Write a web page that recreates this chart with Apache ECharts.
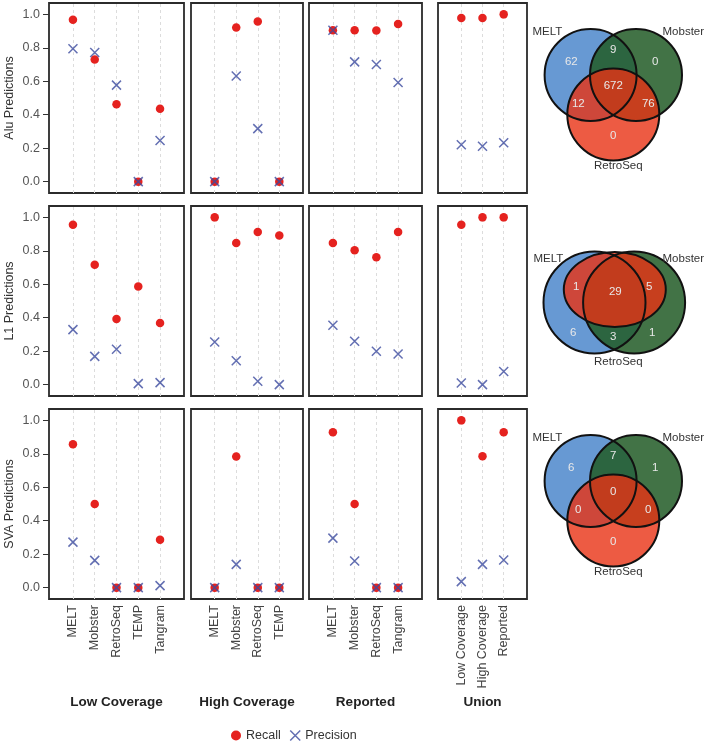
<!DOCTYPE html>
<html>
<head>
<meta charset="utf-8">
<script src="https://cdn.jsdelivr.net/npm/echarts@6/dist/echarts.min.js"></script>
<style>
  html, body { margin: 0; padding: 0; background: #fff; }
  #chart { width: 704px; height: 742px; }
</style>
</head>
<body>
<div id="chart"></div>
<script>
// categories
const methodsLow = ['MELT', 'Mobster', 'RetroSeq', 'TEMP', 'Tangram'];
const methodsHigh = ['MELT', 'Mobster', 'RetroSeq', 'TEMP'];
const methodsReported = ['MELT', 'Mobster', 'RetroSeq', 'Tangram'];
const unionSets = ['Low Coverage', 'High Coverage', 'Reported'];
const panelTitles = ['Low Coverage', 'High Coverage', 'Reported', 'Union'];
const rowNames = ['Alu Predictions', 'L1 Predictions', 'SVA Predictions'];
const yTicks = [0, 0.2, 0.4, 0.6, 0.8, 1.0];

// Alu
const aluRecallLow = [0.968, 0.73, 0.462, 0, 0.436];
const aluPrecisionLow = [0.795, 0.772, 0.577, 0, 0.246];
const aluRecallHigh = [0, 0.921, 0.958, 0];
const aluPrecisionHigh = [0, 0.631, 0.317, 0];
const aluRecallReported = [0.905, 0.905, 0.903, 0.942];
const aluPrecisionReported = [0.905, 0.716, 0.70, 0.593];
const aluRecallUnion = [0.978, 0.978, 1.0];
const aluPrecisionUnion = [0.22, 0.212, 0.232];

// L1
const l1RecallLow = [0.956, 0.717, 0.393, 0.586, 0.369];
const l1PrecisionLow = [0.329, 0.169, 0.211, 0.006, 0.012];
const l1RecallHigh = [1.0, 0.847, 0.913, 0.891];
const l1PrecisionHigh = [0.255, 0.143, 0.02, 0.0];
const l1RecallReported = [0.847, 0.803, 0.761, 0.913];
const l1PrecisionReported = [0.355, 0.259, 0.199, 0.183];
const l1RecallUnion = [0.956, 1.0, 1.0];
const l1PrecisionUnion = [0.01, 0.0, 0.078];

// SVA
const svaRecallLow = [0.857, 0.5, 0, 0, 0.286];
const svaPrecisionLow = [0.272, 0.163, 0, 0, 0.012];
const svaRecallHigh = [0, 0.784, 0, 0];
const svaPrecisionHigh = [0, 0.139, 0, 0];
const svaRecallReported = [0.929, 0.5, 0, 0];
const svaPrecisionReported = [0.296, 0.159, 0, 0];
const svaRecallUnion = [1.0, 0.786, 0.929];
const svaPrecisionUnion = [0.036, 0.139, 0.165];

// venn counts: [MELT only, MELT&Mobster, Mobster only, all three, MELT&RetroSeq, Mobster&RetroSeq, RetroSeq only]
const aluVenn = [62, 9, 0, 672, 12, 76, 0];
const l1Venn = [6, 3, 1, 29, 1, 5];
const svaVenn = [6, 7, 1, 0, 0, 0, 0];
const vennNames = ['MELT', 'Mobster', 'RetroSeq'];

const panelCats = [methodsLow, methodsHigh, methodsReported, unionSets];
const recallRows = [
  [aluRecallLow, aluRecallHigh, aluRecallReported, aluRecallUnion],
  [l1RecallLow, l1RecallHigh, l1RecallReported, l1RecallUnion],
  [svaRecallLow, svaRecallHigh, svaRecallReported, svaRecallUnion]
];
const precisionRows = [
  [aluPrecisionLow, aluPrecisionHigh, aluPrecisionReported, aluPrecisionUnion],
  [l1PrecisionLow, l1PrecisionHigh, l1PrecisionReported, l1PrecisionUnion],
  [svaPrecisionLow, svaPrecisionHigh, svaPrecisionReported, svaPrecisionUnion]
];

const RED = '#e5221f';
const BLUE = '#3c4b9f';
const FONT = 'Liberation Sans, Helvetica, Arial, sans-serif';
const crossPath = 'path://M0,0L10,10M10,0L0,10';

const colLefts = [49, 191, 309, 438];
const colWidths = [135, 112, 113, 89];
const rowTops = [3, 206, 409];
const rowHeight = 190;
const pad = 1.1;

const grids = [], xAxes = [], yAxes = [], series = [];

rowNames.forEach((rowName, r) => {
  panelCats.forEach((cats, c) => {
    const gi = grids.length;
    grids.push({
      left: colLefts[c], top: rowTops[r], width: colWidths[c], height: rowHeight,
      show: true, borderColor: '#2b2b2b', borderWidth: 1.8, backgroundColor: '#fff'
    });
    xAxes.push({
      gridIndex: gi, type: 'value', min: -pad, max: cats.length - 1 + pad,
      axisLine: { show: false, onZero: false }, axisTick: { show: false }, splitLine: { show: false },
      axisLabel: r === 2 ? {
        customValues: cats.map((_, i) => i),
        formatter: v => cats[Math.round(v)],
        rotate: 90, fontSize: 12.5, color: '#444', fontFamily: FONT, margin: 6
      } : { show: false },
      name: r === 2 ? panelTitles[c] : '',
      nameLocation: 'middle', nameGap: 96,
      nameTextStyle: { fontSize: 13.5, fontWeight: 'bold', color: '#222', fontFamily: FONT }
    });
    const yAxis = {
      gridIndex: gi, type: 'value', min: -0.068, max: 1.068,
      splitLine: { show: false }, axisLine: { show: false, onZero: false }
    };
    if (c === 0) {
      Object.assign(yAxis, {
        axisTick: { show: true, length: 6, lineStyle: { color: '#333', width: 1 }, customValues: yTicks },
        axisLabel: { customValues: yTicks, formatter: v => v.toFixed(1), fontSize: 12.5, color: '#555', fontFamily: FONT, margin: 9 },
        name: rowName, nameLocation: 'middle', nameGap: 33,
        nameTextStyle: { fontSize: 12.5, color: '#333', fontFamily: FONT }
      });
    } else {
      Object.assign(yAxis, { axisTick: { show: false }, axisLabel: { show: false } });
    }
    yAxes.push(yAxis);

    // dashed guides at each category
    series.push({
      name: 'guides', type: 'scatter', xAxisIndex: gi, yAxisIndex: gi, data: [], z: 1,
      markLine: {
        z: 1, silent: true, symbol: 'none', label: { show: false }, animation: false,
        lineStyle: { color: '#dcdcdc', type: [3, 3], width: 1 },
        data: cats.map((_, i) => ({ xAxis: i }))
      }
    });
    series.push({
      name: 'Recall', type: 'scatter', xAxisIndex: gi, yAxisIndex: gi, z: 10,
      symbol: 'circle', symbolSize: 8.5,
      itemStyle: { color: RED, opacity: 1 },
      data: recallRows[r][c].map((v, i) => [i, v])
    });
    series.push({
      name: 'Precision', type: 'scatter', xAxisIndex: gi, yAxisIndex: gi, z: 11,
      symbol: crossPath, symbolSize: 9,
      itemStyle: { color: 'none', borderColor: BLUE, borderWidth: 1.5 },
      data: precisionRows[r][c].map((v, i) => [i, v])
    });
  });
});

// venn diagrams
const vBlue = '#6799d3';
const vGreen = 'rgba(35,92,40,0.86)';
const vRed = 'rgba(232,50,20,0.8)';
const graphics = [];
function txt(x, y, s, fill, size) {
  graphics.push({ type: 'text', x: x, y: y, z: 10, silent: true,
    style: { text: String(s), fill: fill, fontSize: size, fontFamily: FONT, align: 'center', verticalAlign: 'middle' } });
}
function round3(midX, midY, counts) {
  const r = 46, dx = 22.7, dy = 39.5;
  const shapes = [
    { cx: midX - dx, cy: midY, fill: vBlue },
    { cx: midX + dx, cy: midY, fill: vGreen },
    { cx: midX, cy: midY + dy, fill: vRed }
  ];
  shapes.forEach(s => graphics.push({ type: 'circle', z: 5, silent: true, shape: { cx: s.cx, cy: s.cy, r: r }, style: { fill: s.fill } }));
  shapes.forEach(s => graphics.push({ type: 'circle', z: 6, silent: true, shape: { cx: s.cx, cy: s.cy, r: r }, style: { fill: 'none', stroke: '#111', lineWidth: 2 } }));
  const offs = [[-42, -13.5], [0, -25.5], [42, -13.5], [0, 11], [-35, 29], [35, 29], [0, 61]];
  counts.forEach((v, i) => txt(midX + offs[i][0], midY + offs[i][1], v, '#e8e8e8', 11.5));
  txt(midX - 66, midY - 43, vennNames[0], '#333', 11.5);
  txt(midX + 70, midY - 43, vennNames[1], '#333', 11.5);
  txt(midX + 5, midY + 91, vennNames[2], '#333', 11.5);
}
function nested(midX, midY, counts) {
  const r = 51, dx = 19.8;
  graphics.push({ type: 'circle', z: 5, silent: true, shape: { cx: midX - dx, cy: midY, r: r }, style: { fill: vBlue } });
  graphics.push({ type: 'circle', z: 5, silent: true, shape: { cx: midX + dx, cy: midY, r: r }, style: { fill: vGreen } });
  graphics.push({ type: 'ellipse', z: 5, silent: true, shape: { cx: midX + 0.5, cy: midY - 13, rx: 51, ry: 37.5 }, style: { fill: vRed } });
  graphics.push({ type: 'circle', z: 6, silent: true, shape: { cx: midX - dx, cy: midY, r: r }, style: { fill: 'none', stroke: '#111', lineWidth: 2 } });
  graphics.push({ type: 'circle', z: 6, silent: true, shape: { cx: midX + dx, cy: midY, r: r }, style: { fill: 'none', stroke: '#111', lineWidth: 2 } });
  graphics.push({ type: 'ellipse', z: 6, silent: true, shape: { cx: midX + 0.5, cy: midY - 13, rx: 51, ry: 37.5 }, style: { fill: 'none', stroke: '#111', lineWidth: 2 } });
  const offs = [[-41, 30], [-1, 34], [38, 30], [1, -11], [-38, -16], [35, -16]];
  counts.forEach((v, i) => txt(midX + offs[i][0], midY + offs[i][1], v, '#e8e8e8', 11.5));
  txt(midX - 66, midY - 44, vennNames[0], '#333', 11.5);
  txt(midX + 69, midY - 44, vennNames[1], '#333', 11.5);
  txt(midX + 4, midY + 59, vennNames[2], '#333', 11.5);
}
round3(613.3, 75, aluVenn);
nested(614.3, 302.5, l1Venn);
round3(613.3, 481, svaVenn);

const chart = echarts.init(document.getElementById('chart'));
chart.setOption({
  animation: false,
  backgroundColor: '#fff',
  textStyle: { fontFamily: FONT },
  grid: grids,
  xAxis: xAxes,
  yAxis: yAxes,
  series: series,
  graphic: graphics,
  legend: {
    left: 231, top: 728, padding: 0, itemWidth: 10, itemHeight: 10, itemGap: 7,
    textStyle: { fontSize: 12.5, color: '#333', fontFamily: FONT },
    data: [
      { name: 'Recall', icon: 'circle', itemStyle: { color: RED } },
      { name: 'Precision', icon: crossPath, itemStyle: { color: 'none', borderColor: BLUE, borderWidth: 1.5 } }
    ]
  }
});
</script>
</body>
</html>
